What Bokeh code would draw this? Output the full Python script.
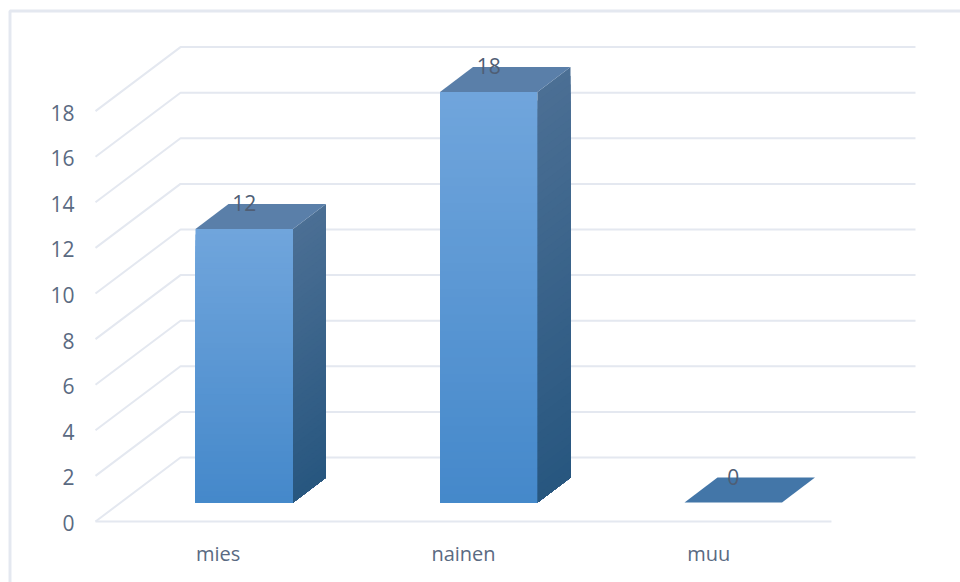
from bokeh.core.properties import value
from bokeh.embed import file_html
from bokeh.models import FixedTicker, Range1d
from bokeh.plotting import figure
from bokeh.resources import INLINE

# Survey answers per category
categories = ["mies", "nainen", "muu"]
counts = [12, 18, 0]
value_ticks = [0, 2, 4, 6, 8, 10, 12, 14, 16, 18]

W, H = 960, 582
CAT_PX = 245.33          # pixels per category on the front edge
UNIT_PX = 22.8           # pixels per counted unit
ORIGIN_X, ORIGIN_Y = 95, 521
DEPTH_X = 85 / CAT_PX    # floor depth, in data units
DEPTH_Y = 64 / UNIT_PX
BAR_W = 97.5 / CAT_PX
BAR_STEP = 244.5 / CAT_PX
BAR_START = (195 - ORIGIN_X) / CAT_PX
BAR_BASE = (ORIGIN_Y - 502) / UNIT_PX
BAR_DX = 33 / CAT_PX
BAR_DY = 25 / UNIT_PX
LABEL_SHIFT_PX = 1.5     # value labels sit slightly below their gridline start

GRID = "#e4e8f0"
TEXT = "#5a6a82"
FONT = "Open Sans"


def mix(a, b, t):
    ca = [int(a[i:i + 2], 16) for i in (1, 3, 5)]
    cb = [int(b[i:i + 2], 16) for i in (1, 3, 5)]
    return "#%02x%02x%02x" % tuple(round(u + (v - u) * t) for u, v in zip(ca, cb))


def from_px(px, py):
    return (px - ORIGIN_X) / CAT_PX, (ORIGIN_Y - py) / UNIT_PX


y_low, y_high = (ORIGIN_Y - H) / UNIT_PX, ORIGIN_Y / UNIT_PX
p = figure(
    width=W, height=H, output_backend="svg", toolbar_location=None,
    x_range=Range1d(-ORIGIN_X / CAT_PX, (W - ORIGIN_X) / CAT_PX),
    y_range=Range1d(y_low, y_high),
    min_border=0, outline_line_color=None, background_fill_color="white",
)
p.grid.visible = False

shift = LABEL_SHIFT_PX / UNIT_PX
p.extra_y_ranges = {"labels": Range1d(y_low + shift, y_high + shift)}

# Chart area border, of which the left and top edges show
bx0, by0 = from_px(9.5, 10.5)
bx1, by1 = from_px(W + 5, H + 5)
p.line([bx0, bx0, bx1], [by1, by0, by0], line_color=GRID, line_width=3)

# Gridlines: a diagonal across the side wall, then along the back wall
wall_end = (915 - ORIGIN_X) / CAT_PX
p.multi_line(
    [[0, DEPTH_X, wall_end] for _ in value_ticks],
    [[v, v + DEPTH_Y, v + DEPTH_Y] for v in value_ticks],
    line_color=GRID, line_width=2,
)
p.line([0, len(categories)], [0, 0], line_color=GRID, line_width=2)

# Value axis and category axis, both sitting on the floor's front edges
p.yaxis.fixed_location = 0
p.yaxis.y_range_name = "labels"
p.yaxis.ticker = FixedTicker(ticks=value_ticks)
p.yaxis.major_label_standoff = 15
p.xaxis.fixed_location = 0
p.xaxis.ticker = FixedTicker(ticks=[i + 0.5 for i in range(len(categories))])
p.xaxis.major_label_overrides = {i + 0.5: c for i, c in enumerate(categories)}
p.xaxis.major_label_standoff = 12
for ax in (p.xaxis, p.yaxis):
    ax.axis_line_color = None
    ax.major_tick_line_color = None
    ax.minor_tick_line_color = None
    ax.major_label_text_font = FONT
    ax.major_label_text_color = TEXT
p.yaxis.major_label_text_font_size = "21px"
p.xaxis.major_label_text_font_size = "20px"

# Vertical shading is built from overlapping slices of each face
STEPS = 48
for i, v in enumerate(counts):
    left = BAR_START + i * BAR_STEP
    right = left + BAR_W
    top = BAR_BASE + v

    if v > 0:
        for s in range(STEPS):
            t = s / STEPS
            h = top - v * t
            p.quad(left=left, right=right, bottom=BAR_BASE, top=h,
                   fill_color=mix("#70a5dc", "#4488ca", t), line_color=None)
            p.patch([right, right + BAR_DX, right + BAR_DX, right],
                    [h, h + BAR_DY, BAR_BASE + BAR_DY, BAR_BASE],
                    fill_color=mix("#4b6f94", "#27567f", t), line_color=None)
        top_color = "#5a7fa9"
    else:
        top_color = "#4376a8"

    p.patch([left, left + BAR_DX, right + BAR_DX, right],
            [top, top + BAR_DY, top + BAR_DY, top],
            fill_color=top_color, line_color=None)

    # Count label, centred over the rear edge of the bar's top
    p.text([(left + right) / 2], [top + BAR_DY], text=[str(v)],
           text_align="center", text_baseline="middle", y_offset=-1,
           text_font=value(FONT), text_font_size="21px", text_color="#4f5e75")

open("out.html", "w").write(file_html(p, INLINE))
